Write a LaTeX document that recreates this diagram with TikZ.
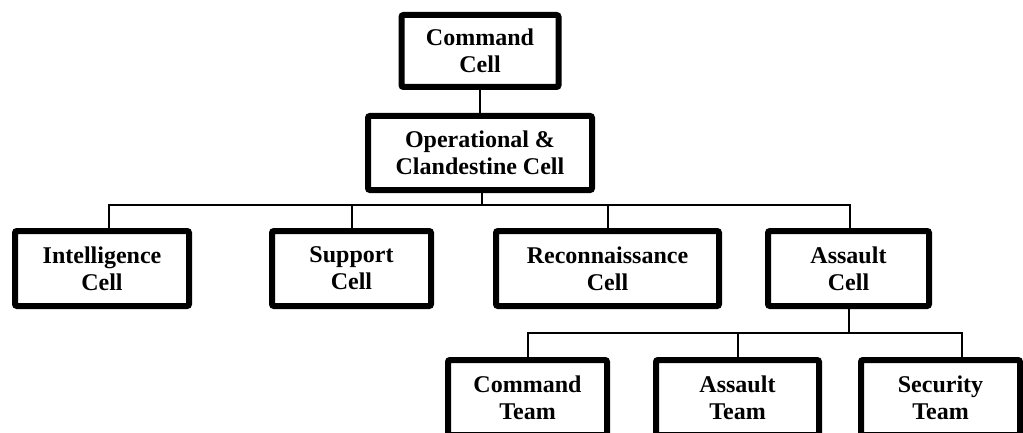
\documentclass[tikz,border=0pt]{standalone}
\usepackage{fontspec}
\setmainfont{Liberation Serif}
\usetikzlibrary{positioning}
\newcommand{\bus}[3]{\draw (#1) -- ++(0,#2) -| (#3); }

\begin{document}
\begin{tikzpicture}[x=1pt,y=-1pt,line width=2pt,
  cell/.style={draw,line width=6pt,rounded corners=2pt,align=center,inner sep=0pt,
    minimum height=75pt,font=\fontsize{24}{27}\selectfont\bfseries}]
  \useasboundingbox (0,0) rectangle (1023,433);
  \node[cell,minimum width=157pt,minimum height=72pt] (cmd) at (480,51) {Command\\Cell};
  \node[cell,minimum width=224pt,minimum height=74pt] (ops) at (480,153) {Operational \&\\Clandestine Cell};
  \node[cell,minimum width=174pt] (intel) at (102,268.5) {Intelligence\\Cell};
  \node[cell,minimum width=159pt] (sup) at (351.5,268.5) {Support\\Cell};
  \node[cell,minimum width=223pt] (rec) at (607.5,268.5) {Reconnaissance\\Cell};
  \node[cell,minimum width=161pt] (asl) at (848.5,268.5) {Assault\\Cell};
  \node[cell,minimum width=159pt] (cteam) at (527.5,397.5) {Command\\Team};
  \node[cell,minimum width=163pt] (ateam) at (737.5,397.5) {Assault\\Team};
  \node[cell,minimum width=159pt] (steam) at (940.5,397.5) {Security\\Team};
  \draw (cmd.south) -- (ops.north);
  \bus{[xshift=2pt]ops.south}{11.5}{[xshift=7pt]intel.north}
  \bus{[xshift=2pt]ops.south}{11.5}{sup.north}
  \bus{[xshift=2pt]ops.south}{11.5}{rec.north}
  \bus{[xshift=2pt]ops.south}{11.5}{[xshift=1.5pt]asl.north}
  \bus{asl.south}{24}{cteam.north}
  \bus{asl.south}{24}{ateam.north}
  \bus{asl.south}{24}{[xshift=21.5pt]steam.north}
\end{tikzpicture}
\end{document}
